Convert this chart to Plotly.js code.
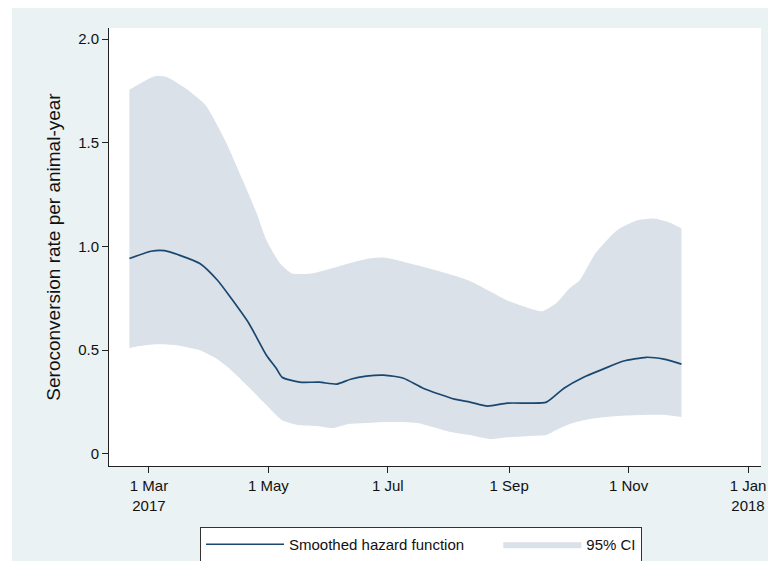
<!DOCTYPE html>
<html>
<head>
<meta charset="utf-8">
<script src="https://cdn.plot.ly/plotly-3.0.1.min.js"></script>
<style>
html,body{margin:0;padding:0;background:#fff;}
#chart{width:768px;height:561px;}
</style>
</head>
<body>
<div id="chart"></div>
<script>
// Smoothed hazard function
var hazardDates = ['2017-02-19','2017-03-02','2017-03-09','2017-03-16','2017-03-27','2017-04-05','2017-04-12','2017-04-21','2017-04-30','2017-05-05','2017-05-08','2017-05-17','2017-05-27','2017-06-05','2017-06-12','2017-06-20','2017-06-29','2017-07-09','2017-07-19','2017-08-04','2017-08-12','2017-08-21','2017-08-31','2017-09-12','2017-09-20','2017-09-29','2017-10-09','2017-10-19','2017-10-29','2017-11-10','2017-11-19','2017-11-28'];
var hazardValues = [0.942,0.977,0.98,0.96,0.918,0.837,0.75,0.63,0.476,0.413,0.37,0.346,0.346,0.337,0.36,0.375,0.38,0.365,0.317,0.264,0.25,0.231,0.245,0.245,0.25,0.317,0.37,0.409,0.447,0.466,0.457,0.433];

// 95% CI upper bound
var ciUpperDates = ['2017-02-19','2017-03-04','2017-03-10','2017-03-20','2017-03-30','2017-04-09','2017-04-18','2017-04-25','2017-04-30','2017-05-07','2017-05-13','2017-05-23','2017-06-02','2017-06-20','2017-06-29','2017-07-16','2017-08-11','2017-08-31','2017-09-12','2017-09-18','2017-09-25','2017-10-02','2017-10-07','2017-10-15','2017-10-26','2017-11-05','2017-11-14','2017-11-22','2017-11-28'];
var ciUpperValues = [1.755,1.82,1.817,1.76,1.68,1.51,1.317,1.16,1.03,0.918,0.87,0.87,0.894,0.94,0.947,0.909,0.837,0.74,0.70,0.688,0.726,0.80,0.837,0.966,1.077,1.125,1.135,1.115,1.087];

// 95% CI lower bound
var ciLowerDates = ['2017-02-19','2017-02-24','2017-03-05','2017-03-15','2017-03-27','2017-04-04','2017-04-12','2017-04-21','2017-04-30','2017-05-08','2017-05-17','2017-05-26','2017-06-03','2017-06-11','2017-06-20','2017-06-29','2017-07-16','2017-08-02','2017-08-12','2017-08-22','2017-09-02','2017-09-12','2017-09-20','2017-09-25','2017-10-02','2017-10-12','2017-10-26','2017-11-08','2017-11-20','2017-11-28'];
var ciLowerValues = [0.51,0.52,0.529,0.524,0.50,0.462,0.404,0.322,0.236,0.163,0.139,0.135,0.125,0.144,0.149,0.154,0.149,0.106,0.091,0.072,0.082,0.087,0.091,0.115,0.144,0.168,0.183,0.188,0.188,0.178];

// Axis ticks
var xTickVals = ['2017-03-01','2017-05-01','2017-07-01','2017-09-01','2017-11-01','2018-01-01'];
var xTickText = ['1 Mar<br>2017','1 May','1 Jul','1 Sep','1 Nov','1 Jan<br>2018'];
var yTickVals = [0,0.5,1,1.5,2];
var yTickText = ['0','0.5','1.0','1.5','2.0'];

var seriesNames = ['Smoothed hazard function','95% CI'];
var yTitle = 'Seroconversion rate per animal-year';

var FONT = 'Liberation Sans, Arial, sans-serif';
var PAD = '\u00a0\u00a0\u00a0\u00a0\u00a0\u00a0\u00a0';

var traces = [
  {x: ciLowerDates, y: ciLowerValues, type: 'scatter', mode: 'lines',
   line: {width: 0, shape: 'spline', smoothing: 0.6, color: '#dbe1e8'}, showlegend: false, hoverinfo: 'skip'},
  {x: ciUpperDates, y: ciUpperValues, type: 'scatter', mode: 'lines', name: seriesNames[1],
   fill: 'tonexty', fillcolor: '#dbe1e8',
   line: {width: 0, shape: 'spline', smoothing: 0.6, color: '#dbe1e8'}},
  {x: hazardDates, y: hazardValues, type: 'scatter', mode: 'lines', name: seriesNames[0] + PAD,
   line: {width: 1.7, color: '#1a476f', shape: 'spline', smoothing: 0.6}}
];

var layout = {
  width: 768, height: 561,
  margin: {l: 109, r: 7, t: 28, b: 95},
  paper_bgcolor: '#eaf2f3',
  plot_bgcolor: '#ffffff',
  font: {family: FONT, size: 15, color: '#111'},
  showlegend: true,
  legend: {
    orientation: 'h', traceorder: 'reversed',
    x: 0.1396, xanchor: 'left',
    yref: 'container', y: 0.0606, yanchor: 'top',
    bgcolor: '#ffffff', bordercolor: '#333', borderwidth: 1,
    font: {family: FONT, size: 15, color: '#111'},
    itemwidth: 78
  },
  xaxis: {
    type: 'date',
    range: ['2017-02-08 14:00', '2018-01-07 15:00'],
    tickmode: 'array', tickvals: xTickVals, ticktext: xTickText,
    showline: true, linecolor: '#222', linewidth: 1,
    ticks: 'outside', ticklen: 6, tickcolor: '#222', tickwidth: 1,
    showgrid: false, zeroline: false,
    tickfont: {family: FONT, size: 15, color: '#111'}
  },
  yaxis: {
    range: [-0.058, 2.053],
    tickmode: 'array', tickvals: yTickVals, ticktext: yTickText,
    showline: true, linecolor: '#222', linewidth: 1,
    ticks: 'outside', ticklen: 6, tickcolor: '#222', tickwidth: 1,
    showgrid: false, zeroline: false,
    tickfont: {family: FONT, size: 15, color: '#111'},
    title: {text: yTitle, font: {family: FONT, size: 19, color: '#111'}, standoff: 12}
  },
  shapes: [
    {type: 'rect', xref: 'paper', yref: 'paper', x0: -0.2, x1: -0.1488, y0: -0.3, y1: 1.2,
     fillcolor: '#ffffff', line: {width: 0}, layer: 'below'},
    {type: 'rect', xref: 'paper', yref: 'paper', x0: -0.2, x1: 1.1, y0: 1.0457, y1: 1.2,
     fillcolor: '#ffffff', line: {width: 0}, layer: 'below'}
  ]
};

Plotly.newPlot('chart', traces, layout, {displayModeBar: false, staticPlot: true});
</script>
</body>
</html>
